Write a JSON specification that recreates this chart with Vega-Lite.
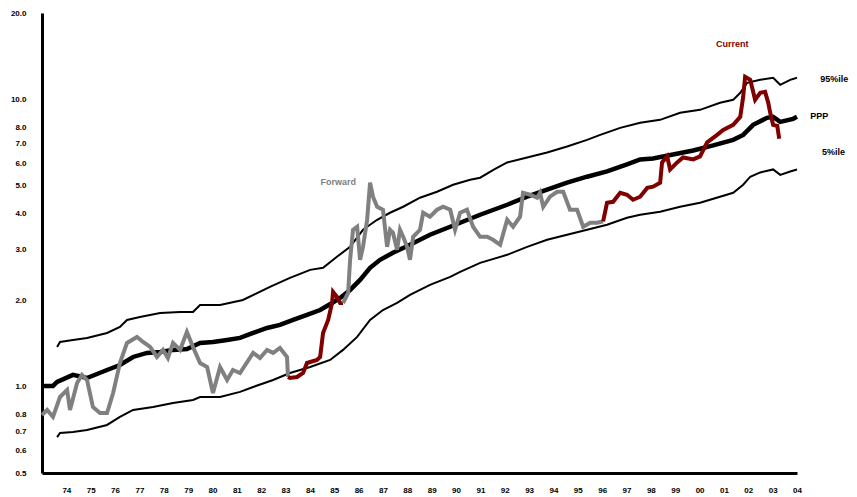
{
  "$schema": "https://vega.github.io/schema/vega-lite/v6.json",
  "width": 755,
  "height": 460,
  "autosize": "none",
  "padding": {"left": 42, "top": 13, "right": 60, "bottom": 24},
  "background": "white",
  "view": {"stroke": null},
  "config": {
    "font": "Liberation Sans",
    "axis": {"grid": false, "title": null, "domainColor": "black", "domainWidth": 3, "labelFont": "Liberation Sans", "labelFontWeight": "bold", "labelFontSize": 8, "labelColor": "black", "tickColor": "black"}
  },
  "datasets": {
    "years": [{"x":1974},{"x":1975},{"x":1976},{"x":1977},{"x":1978},{"x":1979},{"x":1980},{"x":1981},{"x":1982},{"x":1983},{"x":1984},{"x":1985},{"x":1986},{"x":1987},{"x":1988},{"x":1989},{"x":1990},{"x":1991},{"x":1992},{"x":1993},{"x":1994},{"x":1995},{"x":1996},{"x":1997},{"x":1998},{"x":1999},{"x":2000},{"x":2001},{"x":2002},{"x":2003},{"x":2004}],
    "bands": [
      {"b":"95","x":1973.62,"y":1.374},{"b":"95","x":1973.74,"y":1.430},{"b":"95","x":1974.27,"y":1.453},{"b":"95","x":1974.85,"y":1.477},{"b":"95","x":1975.67,"y":1.537},{"b":"95","x":1976.20,"y":1.613},{"b":"95","x":1976.49,"y":1.706},{"b":"95","x":1977.02,"y":1.748},{"b":"95","x":1977.85,"y":1.804},{"b":"95","x":1978.67,"y":1.819},{"b":"95","x":1979.20,"y":1.819},{"b":"95","x":1979.49,"y":1.924},{"b":"95","x":1980.31,"y":1.924},{"b":"95","x":1981.25,"y":2.003},{"b":"95","x":1982.36,"y":2.223},{"b":"95","x":1983.18,"y":2.390},{"b":"95","x":1984.01,"y":2.549},{"b":"95","x":1984.54,"y":2.591},{"b":"95","x":1985.11,"y":2.831},{"b":"95","x":1985.65,"y":3.067},{"b":"95","x":1986.18,"y":3.516},{"b":"95","x":1986.76,"y":3.810},{"b":"95","x":1987.29,"y":4.030},{"b":"95","x":1987.83,"y":4.229},{"b":"95","x":1988.52,"y":4.546},{"b":"95","x":1989.22,"y":4.770},{"b":"95","x":1989.88,"y":5.046},{"b":"95","x":1990.58,"y":5.253},{"b":"95","x":1990.99,"y":5.338},{"b":"95","x":1991.55,"y":5.70},{"b":"95","x":1992.10,"y":6.034},{"b":"95","x":1992.92,"y":6.281},{"b":"95","x":1993.74,"y":6.538},{"b":"95","x":1994.56,"y":6.860},{"b":"95","x":1995.38,"y":7.232},{"b":"95","x":1995.92,"y":7.525},{"b":"95","x":1996.74,"y":7.963},{"b":"95","x":1997.56,"y":8.289},{"b":"95","x":1998.38,"y":8.491},{"b":"95","x":1999.20,"y":8.982},{"b":"95","x":2000.02,"y":9.200},{"b":"95","x":2000.84,"y":9.731},{"b":"95","x":2001.38,"y":9.968},{"b":"95","x":2001.67,"y":10.544},{"b":"95","x":2001.95,"y":11.425},{"b":"95","x":2002.49,"y":11.703},{"b":"95","x":2003.02,"y":11.893},{"b":"95","x":2003.31,"y":11.243},{"b":"95","x":2003.72,"y":11.703},{"b":"95","x":2004.0,"y":11.893},
      {"b":"5","x":1973.62,"y":0.667},{"b":"5","x":1973.74,"y":0.689},{"b":"5","x":1974.27,"y":0.695},{"b":"5","x":1974.85,"y":0.706},{"b":"5","x":1975.67,"y":0.735},{"b":"5","x":1976.20,"y":0.784},{"b":"5","x":1976.74,"y":0.829},{"b":"5","x":1977.56,"y":0.849},{"b":"5","x":1978.38,"y":0.877},{"b":"5","x":1979.20,"y":0.898},{"b":"5","x":1979.49,"y":0.920},{"b":"5","x":1980.31,"y":0.920},{"b":"5","x":1981.13,"y":0.958},{"b":"5","x":1981.67,"y":0.997},{"b":"5","x":1982.49,"y":1.054},{"b":"5","x":1983.18,"y":1.115},{"b":"5","x":1984.01,"y":1.170},{"b":"5","x":1984.83,"y":1.238},{"b":"5","x":1985.36,"y":1.342},{"b":"5","x":1985.94,"y":1.489},{"b":"5","x":1986.47,"y":1.706},{"b":"5","x":1987.00,"y":1.848},{"b":"5","x":1987.58,"y":1.955},{"b":"5","x":1988.11,"y":2.085},{"b":"5","x":1988.93,"y":2.259},{"b":"5","x":1989.76,"y":2.409},{"b":"5","x":1990.17,"y":2.509},{"b":"5","x":1990.99,"y":2.697},{"b":"5","x":1992.10,"y":2.876},{"b":"5","x":1992.92,"y":3.067},{"b":"5","x":1993.74,"y":3.245},{"b":"5","x":1994.56,"y":3.378},{"b":"5","x":1995.38,"y":3.516},{"b":"5","x":1996.20,"y":3.660},{"b":"5","x":1997.02,"y":3.872},{"b":"5","x":1997.56,"y":3.966},{"b":"5","x":1998.38,"y":4.063},{"b":"5","x":1999.20,"y":4.229},{"b":"5","x":2000.02,"y":4.367},{"b":"5","x":2000.84,"y":4.583},{"b":"5","x":2001.38,"y":4.732},{"b":"5","x":2001.79,"y":5.046},{"b":"5","x":2002.08,"y":5.381},{"b":"5","x":2002.49,"y":5.568},{"b":"5","x":2003.02,"y":5.704},{"b":"5","x":2003.31,"y":5.461},{"b":"5","x":2003.72,"y":5.613},{"b":"5","x":2004.0,"y":5.704}
    ],
    "ppp": [
      {"x":1973.04,"y":1.005},{"x":1973.45,"y":1.005},{"x":1973.62,"y":1.038},{"x":1974.27,"y":1.098},{"x":1974.85,"y":1.071},{"x":1975.67,"y":1.142},{"x":1976.20,"y":1.189},{"x":1976.74,"y":1.268},{"x":1977.31,"y":1.310},{"x":1977.85,"y":1.320},{"x":1978.38,"y":1.342},{"x":1978.95,"y":1.352},{"x":1979.49,"y":1.419},{"x":1980.02,"y":1.430},{"x":1980.60,"y":1.453},{"x":1981.13,"y":1.477},{"x":1981.67,"y":1.537},{"x":1982.24,"y":1.600},{"x":1982.77,"y":1.639},{"x":1983.31,"y":1.706},{"x":1983.88,"y":1.776},{"x":1984.42,"y":1.848},{"x":1984.91,"y":1.955},{"x":1985.24,"y":2.035},{"x":1985.65,"y":2.170},{"x":1986.06,"y":2.352},{"x":1986.47,"y":2.591},{"x":1986.88,"y":2.763},{"x":1987.41,"y":2.923},{"x":1988.11,"y":3.117},{"x":1988.93,"y":3.378},{"x":1989.76,"y":3.602},{"x":1990.17,"y":3.720},{"x":1990.99,"y":3.966},{"x":1992.10,"y":4.298},{"x":1992.92,"y":4.583},{"x":1993.74,"y":4.847},{"x":1994.56,"y":5.128},{"x":1995.38,"y":5.381},{"x":1996.20,"y":5.613},{"x":1997.02,"y":5.938},{"x":1997.56,"y":6.181},{"x":1998.09,"y":6.230},{"x":1998.91,"y":6.434},{"x":1999.74,"y":6.643},{"x":2000.56,"y":6.915},{"x":2001.38,"y":7.232},{"x":2001.79,"y":7.525},{"x":2002.20,"y":8.157},{"x":2002.77,"y":8.628},{"x":2003.02,"y":8.698},{"x":2003.31,"y":8.356},{"x":2003.84,"y":8.559},{"x":2004.0,"y":8.698}
    ],
    "spot": [
      {"s":1,"t":"Forward","x":1973.0,"y":0.796},{"s":1,"t":"Forward","x":1973.21,"y":0.829},{"s":1,"t":"Forward","x":1973.45,"y":0.784},{"s":1,"t":"Forward","x":1973.74,"y":0.920},{"s":1,"t":"Forward","x":1974.03,"y":0.973},{"s":1,"t":"Forward","x":1974.15,"y":0.829},{"s":1,"t":"Forward","x":1974.44,"y":1.029},{"s":1,"t":"Forward","x":1974.64,"y":1.098},{"s":1,"t":"Forward","x":1974.85,"y":1.054},{"s":1,"t":"Forward","x":1975.09,"y":0.849},{"s":1,"t":"Forward","x":1975.38,"y":0.809},{"s":1,"t":"Forward","x":1975.67,"y":0.809},{"s":1,"t":"Forward","x":1975.92,"y":0.950},{"s":1,"t":"Forward","x":1976.20,"y":1.208},{"s":1,"t":"Forward","x":1976.49,"y":1.419},{"s":1,"t":"Forward","x":1976.90,"y":1.489},{"s":1,"t":"Forward","x":1977.15,"y":1.430},{"s":1,"t":"Forward","x":1977.44,"y":1.374},{"s":1,"t":"Forward","x":1977.72,"y":1.268},{"s":1,"t":"Forward","x":1977.97,"y":1.342},{"s":1,"t":"Forward","x":1978.17,"y":1.258},{"s":1,"t":"Forward","x":1978.38,"y":1.419},{"s":1,"t":"Forward","x":1978.67,"y":1.342},{"s":1,"t":"Forward","x":1978.95,"y":1.550},{"s":1,"t":"Forward","x":1979.20,"y":1.374},{"s":1,"t":"Forward","x":1979.49,"y":1.208},{"s":1,"t":"Forward","x":1979.78,"y":1.170},{"s":1,"t":"Forward","x":1980.02,"y":0.950},{"s":1,"t":"Forward","x":1980.31,"y":1.170},{"s":1,"t":"Forward","x":1980.60,"y":1.054},{"s":1,"t":"Forward","x":1980.84,"y":1.142},{"s":1,"t":"Forward","x":1981.13,"y":1.115},{"s":1,"t":"Forward","x":1981.67,"y":1.310},{"s":1,"t":"Forward","x":1981.95,"y":1.258},{"s":1,"t":"Forward","x":1982.24,"y":1.342},{"s":1,"t":"Forward","x":1982.49,"y":1.310},{"s":1,"t":"Forward","x":1982.77,"y":1.363},{"s":1,"t":"Forward","x":1983.06,"y":1.268},{"s":1,"t":"Forward","x":1983.10,"y":1.080},
      {"s":2,"t":"Current","x":1983.10,"y":1.080},{"s":2,"t":"Current","x":1983.18,"y":1.071},{"s":2,"t":"Current","x":1983.47,"y":1.080},{"s":2,"t":"Current","x":1983.72,"y":1.115},{"s":2,"t":"Current","x":1983.88,"y":1.208},{"s":2,"t":"Current","x":1984.29,"y":1.238},{"s":2,"t":"Current","x":1984.42,"y":1.268},{"s":2,"t":"Current","x":1984.54,"y":1.537},{"s":2,"t":"Current","x":1984.75,"y":1.706},{"s":2,"t":"Current","x":1984.91,"y":1.955},{"s":2,"t":"Current","x":1984.95,"y":2.136},{"s":2,"t":"Current","x":1985.11,"y":2.052},{"s":2,"t":"Current","x":1985.24,"y":1.955},{"s":2,"t":"Current","x":1985.36,"y":1.955},
      {"s":3,"t":"Forward","x":1985.36,"y":1.955},{"s":3,"t":"Forward","x":1985.57,"y":2.119},{"s":3,"t":"Forward","x":1985.65,"y":2.763},{"s":3,"t":"Forward","x":1985.77,"y":3.516},{"s":3,"t":"Forward","x":1985.94,"y":3.602},{"s":3,"t":"Forward","x":1986.06,"y":2.763},{"s":3,"t":"Forward","x":1986.18,"y":3.067},{"s":3,"t":"Forward","x":1986.35,"y":3.810},{"s":3,"t":"Forward","x":1986.47,"y":5.128},{"s":3,"t":"Forward","x":1986.59,"y":4.583},{"s":3,"t":"Forward","x":1986.76,"y":4.229},{"s":3,"t":"Forward","x":1987.00,"y":4.128},{"s":3,"t":"Forward","x":1987.17,"y":3.067},{"s":3,"t":"Forward","x":1987.29,"y":3.516},{"s":3,"t":"Forward","x":1987.41,"y":3.432},{"s":3,"t":"Forward","x":1987.58,"y":2.994},{"s":3,"t":"Forward","x":1987.70,"y":3.516},{"s":3,"t":"Forward","x":1987.83,"y":3.324},{"s":3,"t":"Forward","x":1987.99,"y":3.067},{"s":3,"t":"Forward","x":1988.11,"y":2.763},{"s":3,"t":"Forward","x":1988.24,"y":3.324},{"s":3,"t":"Forward","x":1988.52,"y":3.516},{"s":3,"t":"Forward","x":1988.65,"y":4.030},{"s":3,"t":"Forward","x":1988.93,"y":3.903},{"s":3,"t":"Forward","x":1989.22,"y":4.128},{"s":3,"t":"Forward","x":1989.47,"y":4.229},{"s":3,"t":"Forward","x":1989.76,"y":4.128},{"s":3,"t":"Forward","x":1989.96,"y":3.516},{"s":3,"t":"Forward","x":1990.17,"y":4.030},{"s":3,"t":"Forward","x":1990.45,"y":4.128},{"s":3,"t":"Forward","x":1990.70,"y":3.602},{"s":3,"t":"Forward","x":1990.99,"y":3.324},{"s":3,"t":"Forward","x":1991.28,"y":3.324},{"s":3,"t":"Forward","x":1991.52,"y":3.245},{"s":3,"t":"Forward","x":1991.81,"y":3.117},{"s":3,"t":"Forward","x":1992.10,"y":3.810},{"s":3,"t":"Forward","x":1992.34,"y":3.602},{"s":3,"t":"Forward","x":1992.63,"y":3.903},{"s":3,"t":"Forward","x":1992.75,"y":4.732},{"s":3,"t":"Forward","x":1993.04,"y":4.657},{"s":3,"t":"Forward","x":1993.33,"y":4.546},{"s":3,"t":"Forward","x":1993.45,"y":4.732},{"s":3,"t":"Forward","x":1993.58,"y":4.229},{"s":3,"t":"Forward","x":1993.86,"y":4.583},{"s":3,"t":"Forward","x":1994.15,"y":4.770},{"s":3,"t":"Forward","x":1994.40,"y":4.770},{"s":3,"t":"Forward","x":1994.68,"y":4.128},{"s":3,"t":"Forward","x":1994.97,"y":4.128},{"s":3,"t":"Forward","x":1995.22,"y":3.602},{"s":3,"t":"Forward","x":1995.51,"y":3.720},{"s":3,"t":"Forward","x":1995.79,"y":3.720},{"s":3,"t":"Forward","x":1996.04,"y":3.760},
      {"s":4,"t":"Current","x":1996.04,"y":3.760},{"s":4,"t":"Current","x":1996.20,"y":4.367},{"s":4,"t":"Current","x":1996.45,"y":4.400},{"s":4,"t":"Current","x":1996.74,"y":4.732},{"s":4,"t":"Current","x":1997.02,"y":4.657},{"s":4,"t":"Current","x":1997.27,"y":4.474},{"s":4,"t":"Current","x":1997.56,"y":4.583},{"s":4,"t":"Current","x":1997.85,"y":4.920},{"s":4,"t":"Current","x":1998.09,"y":4.966},{"s":4,"t":"Current","x":1998.38,"y":5.128},{"s":4,"t":"Current","x":1998.46,"y":6.034},{"s":4,"t":"Current","x":1998.67,"y":6.331},{"s":4,"t":"Current","x":1998.79,"y":5.704},{"s":4,"t":"Current","x":1999.08,"y":6.034},{"s":4,"t":"Current","x":1999.32,"y":6.281},{"s":4,"t":"Current","x":1999.74,"y":6.181},{"s":4,"t":"Current","x":2000.02,"y":6.331},{"s":4,"t":"Current","x":2000.31,"y":7.084},{"s":4,"t":"Current","x":2000.72,"y":7.525},{"s":4,"t":"Current","x":2000.97,"y":7.836},{"s":4,"t":"Current","x":2001.38,"y":8.157},{"s":4,"t":"Current","x":2001.67,"y":8.698},{"s":4,"t":"Current","x":2001.79,"y":10.211},{"s":4,"t":"Current","x":2001.87,"y":11.989},{"s":4,"t":"Current","x":2002.08,"y":11.703},{"s":4,"t":"Current","x":2002.28,"y":9.968},{"s":4,"t":"Current","x":2002.49,"y":10.544},{"s":4,"t":"Current","x":2002.69,"y":10.629},{"s":4,"t":"Current","x":2002.82,"y":9.731},{"s":4,"t":"Current","x":2002.90,"y":8.982},{"s":4,"t":"Current","x":2003.02,"y":8.157},{"s":4,"t":"Current","x":2003.19,"y":8.09},{"s":4,"t":"Current","x":2003.27,"y":7.30}
    ],
    "rightLabels": [
      {"txt":"95%ile","x":2004.95,"y":11.78},
      {"txt":"PPP","x":2004.54,"y":8.77},
      {"txt":"5%ile","x":2005.03,"y":6.57}
    ],
    "currentLabel": [{"txt":"Current","x":2001.34,"y":15.62}],
    "forwardLabel": [{"txt":"Forward","x":1985.16,"y":5.164}]
  },
  "encoding": {
    "x": {"field": "x", "type": "quantitative", "scale": {"domain": [1973, 2004], "nice": false, "zero": false},
      "axis": {"values": [1974,1975,1976,1977,1978,1979,1980,1981,1982,1983,1984,1985,1986,1987,1988,1989,1990,1991,1992,1993,1994,1995,1996,1997,1998,1999,2000,2001,2002,2003,2004], "format": "d", "labelExpr": "substring(datum.label, 2)", "ticks": false, "labelPadding": 13, "labelOverlap": false, "labelFlush": false}},
    "y": {"field": "y", "type": "quantitative", "scale": {"type": "log", "domain": [0.5, 20], "nice": false},
      "axis": {"values": [0.5,0.6,0.7,0.8,1,2,3,4,5,6,7,8,10,20], "format": ".1f", "ticks": false, "labelPadding": 16, "labelOverlap": false, "labelFlush": false}}
  },
  "layer": [
    {"data": {"name": "bands"}, "mark": {"type": "line", "color": "black", "strokeWidth": 2}, "encoding": {"detail": {"field": "b"}}},
    {"data": {"name": "ppp"}, "mark": {"type": "line", "color": "black", "strokeWidth": 4.5}},
    {"data": {"name": "spot"}, "mark": {"type": "line", "strokeWidth": 4, "strokeJoin": "miter"},
      "encoding": {"detail": {"field": "s"}, "color": {"field": "t", "type": "nominal", "scale": {"domain": ["Forward", "Current"], "range": ["#808080", "#800000"]}, "legend": null}}},
    {"data": {"name": "years"}, "mark": {"type": "tick", "orient": "vertical", "color": "black", "thickness": 2, "size": 11, "opacity": 1},
      "encoding": {"y": {"datum": 0.5205}}},
    {"data": {"name": "rightLabels"}, "mark": {"type": "text", "fontWeight": "bold", "fontSize": 9, "baseline": "middle", "align": "left", "color": "black"},
      "encoding": {"text": {"field": "txt"}}},
    {"data": {"name": "currentLabel"}, "mark": {"type": "text", "fontWeight": "bold", "fontSize": 9, "baseline": "middle", "align": "center", "color": "#800000"},
      "encoding": {"text": {"field": "txt"}}},
    {"data": {"name": "forwardLabel"}, "mark": {"type": "text", "fontWeight": "bold", "fontSize": 9, "baseline": "middle", "align": "center", "color": "#808080"},
      "encoding": {"text": {"field": "txt"}}}
  ]
}
